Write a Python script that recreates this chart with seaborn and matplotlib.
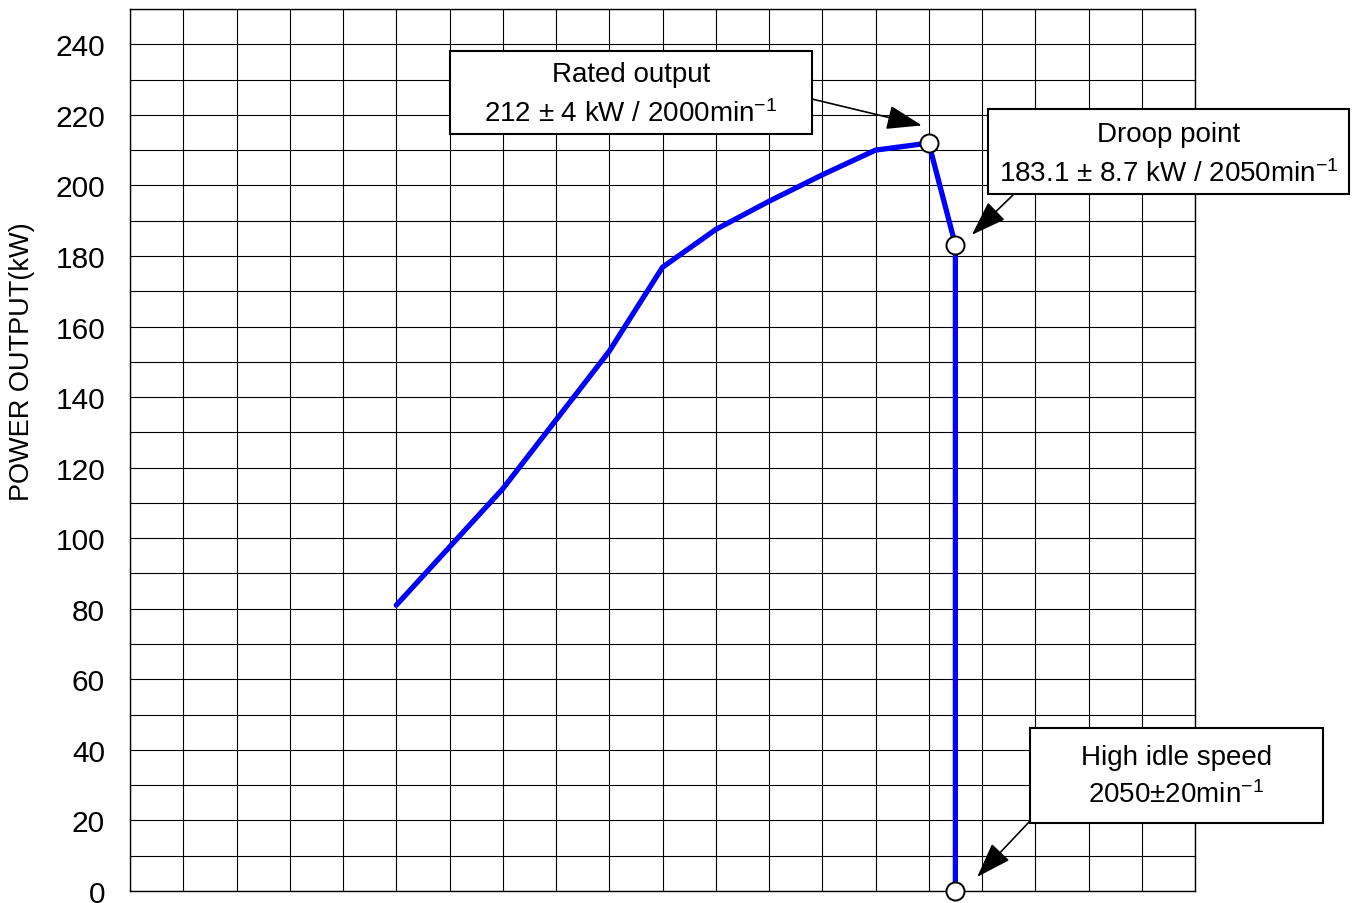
import numpy as np
import pandas as pd
import matplotlib
matplotlib.use("Agg")
import matplotlib.pyplot as plt
from matplotlib.patches import Rectangle
import seaborn as sns

# engine speed (min-1) and power output (kW)
speed = [1000, 1200, 1400, 1500, 1600, 1700, 1800, 1900, 2000, 2050, 2050]
power = [81, 114, 153, 176.8, 187.5, 195.5, 203, 210, 212, 183.1, 0]

# marked points: rated output, droop point, high idle
mark_speed = [2000, 2050, 2050]
mark_power = [212, 183.1, 0]

y_ticks = list(range(0, 250, 20))

callout_lines = [
    ("Rated output", "212 ± 4 kW / 2000min$^{-1}$"),
    ("Droop point", "183.1 ± 8.7 kW / 2050min$^{-1}$"),
    ("High idle speed", "2050±20min$^{-1}$"),
]

W, H = 1359, 904
df = pd.DataFrame({"speed": speed, "power": power})

sns.set_theme(style="white")
plt.rcParams["font.family"] = ["Liberation Sans", "DejaVu Sans"]
plt.rcParams["text.color"] = "black"
plt.rcParams["axes.labelcolor"] = "black"
plt.rcParams["ytick.color"] = "black"
plt.rcParams["mathtext.fontset"] = "custom"
plt.rcParams["mathtext.rm"] = "Liberation Sans"
plt.rcParams["mathtext.it"] = "Liberation Sans:italic"

fig = plt.figure(figsize=(W / 100, H / 100), dpi=100)
ax = fig.add_axes([130 / W, 1 - 892 / H, (1195 - 130) / W, (892 - 10) / H])

sns.lineplot(data=df, x="speed", y="power", sort=False, estimator=None,
             color="#0000ff", linewidth=3.8, ax=ax, zorder=3)
ax.plot(mark_speed, mark_power, "o", ms=13, mfc="white", mec="black",
        mew=1.4, zorder=4, clip_on=False)

ax.set_xlim(500, 2500)
ax.set_ylim(0, 250)
ax.set_xticks(np.arange(500, 2501, 100))
ax.set_xticklabels([])
ax.set_yticks(y_ticks, labels=[str(v) for v in y_ticks])
ax.set_yticks(np.arange(10, 251, 20), minor=True)
ax.grid(True, which="both", color="black", linewidth=0.8)
ax.tick_params(axis="both", which="both", length=0)
ax.tick_params(axis="y", labelsize=21.5, pad=18)
for s in ax.spines.values():
    s.set_color("black")
    s.set_linewidth(1.0)

ax.set_xlabel("")
ax.set_ylabel("POWER OUTPUT(kW)", fontsize=19.5)
ax.yaxis.set_label_coords(35 / W, 1 - 362 / H, transform=fig.transFigure)

# callout boxes (pixel layout, top-left origin) and text baselines
boxes = [(450, 52, 812, 135), (988, 110, 1349, 195), (1030, 729, 1323, 824)]
baselines = [(82, 122), (142, 182), (765, 803)]
# arrow start (pixels) and target in data units
arrow_from = [(812, 100), (1013, 196), (1030, 822)]
arrow_to = [(1987, 217), (2081, 186), (2091, 4)]

for (x0, y0, x1, y1), (b1, b2), lines in zip(boxes, baselines, callout_lines):
    fig.patches.append(Rectangle((x0 / W, 1 - y1 / H), (x1 - x0) / W,
                                 (y1 - y0) / H, transform=fig.transFigure,
                                 fc="white", ec="black", lw=1.5, zorder=5))
    cx = (x0 + x1) / 2 / W
    fig.text(cx, 1 - b1 / H, lines[0], ha="center", va="baseline",
             fontsize=20, zorder=6)
    fig.text(cx, 1 - b2 / H, lines[1], ha="center", va="baseline",
             fontsize=20, zorder=6)

for (px, py), tip in zip(arrow_from, arrow_to):
    ax.annotate("", xy=tip, xycoords="data",
                xytext=(px, H - py), textcoords="figure pixels",
                arrowprops=dict(arrowstyle="-|>,head_length=1.1,head_width=0.38",
                                mutation_scale=20, color="black", lw=1.2,
                                shrinkA=0, shrinkB=0),
                annotation_clip=False, zorder=6)

fig.savefig("out.png", dpi=100)
